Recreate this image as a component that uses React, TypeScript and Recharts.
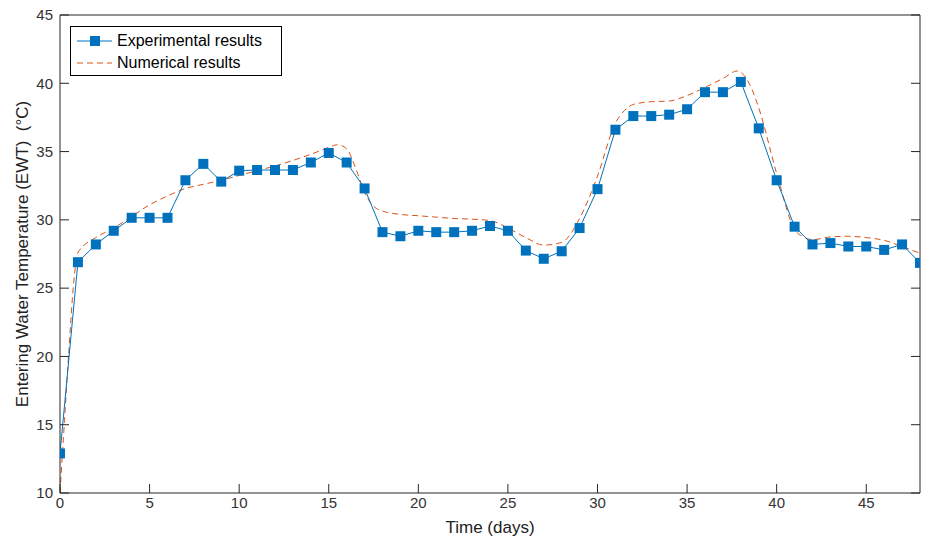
import React from "react";
import { LineChart, Line, XAxis, YAxis } from "recharts";

// Experimental measurements, one per day
const EXP_DAYS = [
  0, 1, 2, 3, 4, 5, 6, 7, 8, 9, 10, 11, 12, 13, 14, 15, 16, 17, 18, 19, 20, 21, 22, 23, 24,
  25, 26, 27, 28, 29, 30, 31, 32, 33, 34, 35, 36, 37, 38, 39, 40, 41, 42, 43, 44, 45, 46, 47, 48,
];
const EXP_TEMP = [
  12.9, 26.9, 28.2, 29.2, 30.15, 30.15, 30.15, 32.9, 34.1, 32.8, 33.6, 33.65, 33.65, 33.65, 34.2,
  34.9, 34.2, 32.3, 29.1, 28.8, 29.2, 29.1, 29.1, 29.2, 29.55, 29.2, 27.75, 27.15, 27.7, 29.4,
  32.25, 36.6, 37.6, 37.6, 37.7, 38.1, 39.35, 39.35, 40.1, 36.7, 32.9, 29.5, 28.2, 28.3, 28.05,
  28.05, 27.8, 28.2, 26.85,
];

// Simulation curve
const NUM_DAYS = [
  0, 0.25, 0.5, 0.75, 1, 2, 3, 4, 5, 6, 7, 8, 9, 10, 11, 12, 13, 14, 15, 15.5, 16, 16.5, 17, 17.5,
  18, 19, 20, 21, 22, 23, 24, 25, 26, 27, 28, 29, 30, 31, 31.5, 32, 33, 34, 35, 36, 37, 37.8, 38.5,
  39, 40, 41, 41.5, 42, 43, 44, 45, 46, 47, 48,
];
const NUM_TEMP = [
  10, 15.3, 20.5, 25.2, 27.6, 28.7, 29.4, 30.25, 31.1, 31.75, 32.3, 32.6, 32.9, 33.25, 33.6, 33.95,
  34.35, 34.8, 35.3, 35.5, 35.2, 33.8, 32.0, 31.0, 30.65, 30.4, 30.3, 30.2, 30.1, 30.05, 29.95,
  29.4, 28.7, 28.15, 28.35, 30.1, 33.2, 37.1, 38.0, 38.45, 38.65, 38.7, 39.1, 39.7, 40.35, 40.9,
  39.9, 38.2, 33.4, 29.3, 28.75, 28.55, 28.75, 28.8, 28.7, 28.5, 28.05, 27.55,
];

const X_TICKS = [0, 5, 10, 15, 20, 25, 30, 35, 40, 45];
const Y_TICKS = [10, 15, 20, 25, 30, 35, 40, 45];

const BLUE = "#0072BD";
const ORANGE = "#D95319";
const AXIS = "#262626";
const FONT = '"Liberation Sans", Arial, sans-serif';

const expData = EXP_DAYS.map((d, i) => ({ day: d, temp: EXP_TEMP[i] }));
const numData = NUM_DAYS.map((d, i) => ({ day: d, temp: NUM_TEMP[i] }));

// square marker like matlab's 's'
const SquareDot = (props: any) => {
  const { cx, cy, index } = props;
  if (cx == null || cy == null) return null;
  return <rect key={`sq-${index}`} x={cx - 5} y={cy - 5} width={10} height={10} fill={BLUE} />;
};

// empty label so the box axes keep their tick marks
const NoLabel = () => <g />;

function LegendBox() {
  return (
    <div
      style={{
        position: "absolute",
        left: 70,
        top: 26,
        border: "1px solid #000",
        background: "#fff",
        width: 212,
        height: 50,
        boxSizing: "border-box",
        fontFamily: FONT,
        fontSize: 16,
        color: "#000",
      }}
    >
      <div style={{ display: "flex", alignItems: "center", height: 22, marginTop: 3 }}>
        <svg width={46} height={22}>
          <line x1={6} y1={11} x2={41} y2={11} stroke={BLUE} strokeWidth={1} />
          <rect x={19} y={6} width={10} height={10} fill={BLUE} />
        </svg>
        <span>Experimental results</span>
      </div>
      <div style={{ display: "flex", alignItems: "center", height: 22 }}>
        <svg width={46} height={22}>
          <line x1={6} y1={11} x2={41} y2={11} stroke={ORANGE} strokeWidth={1} strokeDasharray="6 4" />
        </svg>
        <span>Numerical results</span>
      </div>
    </div>
  );
}

export default function App() {
  const tickStyle = { fontSize: 15, fill: "#333", fontFamily: FONT };
  return (
    <div style={{ position: "absolute", left: 0, top: 0, width: 935, height: 543, background: "#fff" }}>
      <LineChart width={935} height={543} margin={{ top: 14, right: 14, bottom: 0, left: 0 }}>
        <XAxis
          xAxisId="bottom"
          dataKey="day"
          type="number"
          domain={[0, 48]}
          ticks={X_TICKS}
          allowDataOverflow
          height={50}
          tickSize={-9}
          tickMargin={13}
          stroke={AXIS}
          tick={tickStyle}
          label={{ value: "Time (days)", position: "insideBottom", offset: 10, style: { fontSize: 17, fill: "#222", fontFamily: FONT } }}
        />
        <XAxis
          xAxisId="top"
          orientation="top"
          type="number"
          domain={[0, 48]}
          ticks={X_TICKS}
          allowDataOverflow
          height={1}
          tickSize={-9}
          tick={NoLabel}
          stroke={AXIS}
        />
        <YAxis
          yAxisId="left"
          type="number"
          domain={[10, 45]}
          ticks={Y_TICKS}
          allowDataOverflow
          width={60}
          tickSize={-9}
          tickMargin={16}
          stroke={AXIS}
          tick={tickStyle}
          label={{
            value: "Entering Water Temperature (EWT)\u00a0 (°C)",
            angle: -90,
            position: "insideLeft",
            offset: 22,
            style: { textAnchor: "middle", fontSize: 17, fill: "#222", fontFamily: FONT },
          }}
        />
        <YAxis
          yAxisId="right"
          orientation="right"
          type="number"
          domain={[10, 45]}
          ticks={Y_TICKS}
          allowDataOverflow
          width={1}
          tickSize={-9}
          tick={NoLabel}
          stroke={AXIS}
        />
        <Line
          data={numData}
          xAxisId="bottom"
          yAxisId="left"
          dataKey="temp"
          type="monotone"
          stroke={ORANGE}
          strokeWidth={1}
          strokeDasharray="6 4"
          dot={false}
          isAnimationActive={false}
        />
        <Line
          data={expData}
          xAxisId="bottom"
          yAxisId="left"
          dataKey="temp"
          type="linear"
          stroke={BLUE}
          strokeWidth={1}
          dot={SquareDot}
          activeDot={false}
          isAnimationActive={false}
        />
      </LineChart>
      <LegendBox />
    </div>
  );
}
